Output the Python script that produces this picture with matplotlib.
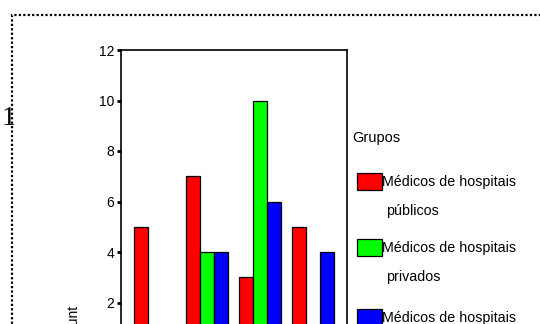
import numpy as np
import matplotlib.pyplot as plt
from matplotlib.patches import Rectangle

# data (counts per group); lower ones are cut off in the picture
categorias = ["1", "2", "3", "4"]
publicos = [5, 7, 3, 5]
privados = [0, 4, 10, 0]
outros = [0, 4, 6, 4]
grupos = ["Médicos de hospitais\npúblicos", "Médicos de hospitais\nprivados", "Médicos de hospitais"]
cores = ["#ff0000", "#00ff00", "#0000ff"]

W, H = 540, 324
fig = plt.figure(figsize=(5.4, 3.24), dpi=100)

def fx(px):
    return px / W

def fy(py):
    return 1 - py / H

# dotted frame around the chart (continues past the picture edges)
fig.patches.append(Rectangle((fx(12), fy(600)), fx(600), (600 - 15) / H, transform=fig.transFigure,
                             fill=False, edgecolor="black", linestyle=(0, (1, 1)), linewidth=1.6))
fig.text(fx(2), fy(118), "1", family="Liberation Serif", fontsize=20, va="center", ha="left")

ax = fig.add_axes([fx(121), fy(353), fx(347) - fx(121), fy(50) - fy(353)])
x = np.arange(len(categorias))
w = 0.265
for i, (vals, c) in enumerate(zip([publicos, privados, outros], cores)):
    ax.bar(x + (i - 1) * w, vals, width=w, color=c, edgecolor="black", linewidth=0.9)

ax.set_xlim(-0.635, 3.64)
ax.set_ylim(0, 12)
ax.set_yticks([2, 4, 6, 8, 10, 12])
ax.set_xticks([])
ax.tick_params(axis="y", direction="out", length=3, width=2, labelsize=10, pad=2)
for s in ax.spines.values():
    s.set_linewidth(1.2)
for t in ax.get_yticklabels():
    t.set_family("Liberation Sans")

fig.text(fx(73), fy(323), "Count", rotation=90, family="Liberation Sans", fontsize=10,
         ha="center", va="center")

# legend drawn by hand
fig.text(fx(352), fy(138), "Grupos", family="Liberation Sans", fontsize=10.5, va="center")
tops = [173, 239, 309]
for nome, c, t in zip(grupos, cores, tops):
    fig.patches.append(Rectangle((fx(357), fy(t + 17)), fx(25), 17 / H, transform=fig.transFigure,
                                 facecolor=c, edgecolor="black", linewidth=0.9))
    linhas = nome.split("\n")
    fig.text(fx(382), fy(t + 9), linhas[0], family="Liberation Sans", fontsize=10.3, va="center")
    if len(linhas) > 1:
        fig.text(fx(386), fy(t + 38), linhas[1], family="Liberation Sans", fontsize=10.3, va="center")

fig.savefig("out.png", dpi=100)
